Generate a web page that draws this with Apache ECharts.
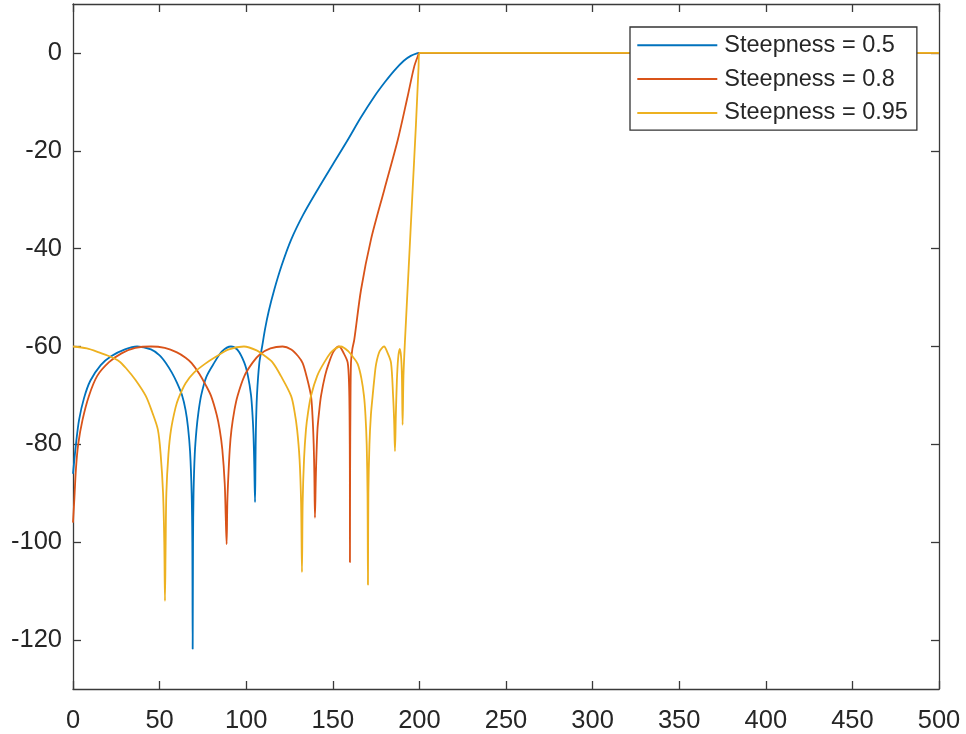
<!DOCTYPE html>
<html>
<head>
<meta charset="utf-8">
<script src="https://cdn.jsdelivr.net/npm/echarts@6/dist/echarts.min.js"></script>
<style>
html,body{margin:0;padding:0;background:#fff;}
#chart{width:966px;height:734px;}
</style>
</head>
<body>
<div id="chart"></div>
<script>
// Tick labels
const xTicks = [0, 50, 100, 150, 200, 250, 300, 350, 400, 450, 500];
const yTicks = [-120, -100, -80, -60, -40, -20, 0];
const seriesNames = ['Steepness = 0.5', 'Steepness = 0.8', 'Steepness = 0.95'];

// [frequency, magnitude dB]
const steep05 = [
  [0,-86],[1.7,-80],[3.5,-75],[6.4,-70.5],[10,-67],[16,-63.8],[22,-62],[30,-60.6],[37,-60],
  [45,-60.6],[50,-61.8],[53.5,-63.3],[57,-65.3],[60,-67.4],[63,-70],[65,-73],[66.4,-76.5],
  [67.6,-81.5],[68.5,-90],[68.9,-100],[69.1,-121.8],[69.3,-100],[69.6,-90],[70.3,-82],
  [71.3,-77],[72.4,-73.5],[74,-70],[77,-66.2],[81.6,-63.3],[86,-61],[91.2,-60],[95,-60.7],
  [98.9,-63.3],[101,-66],[102.8,-70],[103.65,-74],[104.2,-78],[104.65,-84],[105.1,-91.8],
  [105.35,-84],[105.6,-77],[106.2,-70.1],[107.6,-63.3],[109.2,-60],[110.9,-56.4],[113,-52.8],
  [116.2,-48.4],[120.5,-43.4],[125.9,-38.2],[133,-33],[141.3,-27.9],[150,-22.8],[158.6,-17.8],
  [166,-13.3],[174,-8.9],[180,-6],[185.5,-3.6],[191,-1.6],[195,-0.6],[199,-0.05],[200,0],[500,0]
];

const steep08 = [
  [0,-96],[0.8,-91],[1.7,-85],[3,-80],[5.5,-75],[9.2,-70.1],[14,-66],[20.8,-63.2],[28,-61.4],
  [36,-60.3],[45,-60],[53,-60.3],[60,-61.2],[65,-62.3],[68.5,-63.4],[73,-65.6],[76.5,-67.8],
  [79.7,-70.1],[83,-74],[84.7,-77],[86.2,-81],[87.6,-88],[88.2,-95],[88.7,-100.4],[89.1,-92],
  [89.5,-88],[90.5,-81],[91.5,-77],[93.2,-73],[95,-70.1],[99,-66],[103.7,-63.3],[108,-61.6],
  [114,-60.4],[121,-60],[126,-60.6],[130,-62],[132.6,-63.4],[135,-66.3],[137.4,-70.1],
  [138.25,-74],[138.97,-80],[139.34,-86],[139.7,-95],[140.25,-86],[141.14,-77],[142.2,-73],
  [143.2,-70.1],[145.5,-66],[147.8,-63.3],[150.5,-61],[153.6,-60],[156.5,-61.5],[158.6,-63.3],
  [159.4,-68],[159.7,-75],[159.85,-85],[159.9,-104.1],[160,-85],[160.2,-72],[160.5,-63.3],
  [161.3,-60.5],[162.4,-58.6],[166.3,-48.4],[172,-38.2],[179.7,-28],[187.5,-17.8],[193.2,-8.9],
  [197,-2.8],[199.5,-0.3],[200,0],[500,0]
];

const steep095 = [
  [0,-60],[8,-60.4],[15,-61.2],[21,-62],[26.6,-63],[31,-64.6],[36,-66.8],[42,-70.1],[45.8,-73.5],
  [49,-77],[50.6,-82],[52,-90],[52.7,-100],[53.1,-112],[53.5,-100],[53.9,-90],[55.1,-82],
  [56.6,-77],[59.2,-72.5],[61,-70.5],[65,-67.5],[70,-65.3],[76,-63.6],[82,-62.2],[90,-60.6],
  [98.7,-60],[106,-60.8],[111,-62],[115.3,-63.3],[120,-66],[125.9,-70.1],[128,-73.5],[129.4,-77],
  [130.8,-83],[131.7,-92],[132.2,-106.1],[132.6,-92],[133.4,-83],[134.5,-77],[135.7,-73.5],
  [137.4,-70.1],[141,-66],[145,-63.3],[149.5,-61],[154.7,-60],[159,-61],[162,-62.3],[164.4,-63.6],
  [166.5,-66.5],[168,-70.1],[168.85,-74],[169.57,-80],[170.05,-90],[170.3,-108.7],[170.55,-90],
  [171.16,-80],[172,-74],[173,-70.1],[174,-66.5],[175,-63.6],[177,-61],[179.6,-60],[181.5,-61.2],
  [183.6,-63.3],[184.8,-70],[185.4,-75],[185.9,-81.4],[186.4,-74],[187,-67],[187.7,-62.5],
  [188.6,-60.5],[189.4,-62],[189.9,-66],[190.3,-76],[190.8,-66],[191.7,-58.6],[193.8,-44],
  [195.9,-29.3],[198,-14.7],[199.5,-3],[200,0],[500,0]
];

const colors = ['#0072BD', '#D95319', '#EDB120'];

const FONT = "'Liberation Sans', Arial, Helvetica, sans-serif";
const TXT = '#262626';
const AX = '#3a3a3a';

const chart = echarts.init(document.getElementById('chart'), null, {renderer: 'canvas'});

const xBase = {
  type: 'value', min: 0, max: 500, interval: 50,
  axisLine: {show: true, onZero: false, lineStyle: {color: AX, width: 1.3}},
  axisTick: {show: true, inside: true, length: 8, lineStyle: {color: AX, width: 1.3}},
  splitLine: {show: false}
};
const yBase = {
  type: 'value', min: -130, max: 10,
  axisLine: {show: true, onZero: false, lineStyle: {color: AX, width: 1.3}},
  axisTick: {show: true, inside: true, length: 8, customValues: yTicks, lineStyle: {color: AX, width: 1.3}},
  splitLine: {show: false}
};

const series = [steep05, steep08, steep095].map((d, i) => ({
  name: seriesNames[i],
  type: 'line',
  data: d,
  showSymbol: false,
  symbol: 'none',
  smooth: 0.3,
  clip: true,
  color: colors[i],
  lineStyle: {color: colors[i], width: 1.8},
  xAxisIndex: 0, yAxisIndex: 0
}));

chart.setOption({
  animation: false,
  backgroundColor: '#fff',
  grid: {left: 73, right: 27, top: 4, bottom: 45, containLabel: false},
  xAxis: [
    Object.assign({}, xBase, {position: 'bottom',
      axisLabel: {show: true, margin: 19, fontSize: 25.5, color: TXT, fontFamily: FONT,
        customValues: xTicks}}),
    Object.assign({}, xBase, {position: 'top', axisLabel: {show: false}})
  ],
  yAxis: [
    Object.assign({}, yBase, {position: 'left',
      axisLabel: {show: true, margin: 11, fontSize: 25.5, color: TXT, fontFamily: FONT,
        customValues: yTicks}}),
    Object.assign({}, yBase, {position: 'right', axisLabel: {show: false}})
  ],
  legend: {
    data: seriesNames,
    orient: 'vertical',
    left: 630, top: 27,
    icon: 'rect',
    itemWidth: 80, itemHeight: 2,
    itemGap: 9.8,
    padding: [6.3, 9, 5.3, 7.3],
    backgroundColor: '#fff',
    borderColor: '#333',
    borderWidth: 1.3,
    borderRadius: 0,
    textStyle: {fontSize: 23.5, color: TXT, fontFamily: FONT, lineHeight: 24, padding: [0, 0, 0, 2]}
  },
  series: series
});
</script>
</body>
</html>
